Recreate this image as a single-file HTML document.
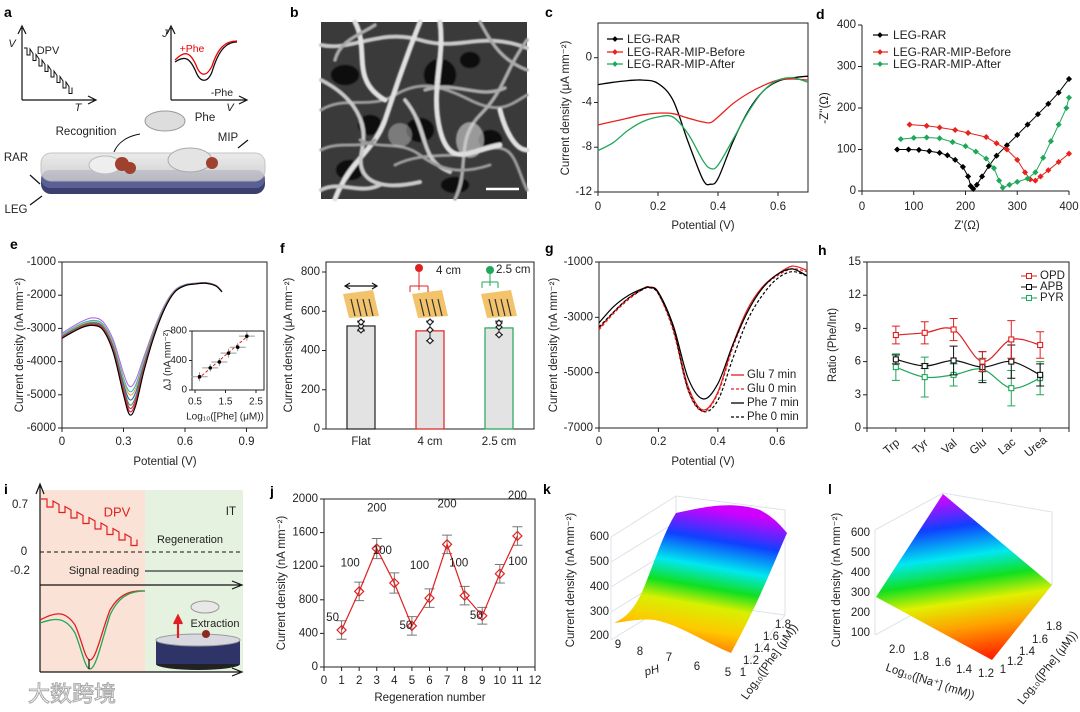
<!DOCTYPE html>
<html><head><meta charset="utf-8">
<style>
html,body{margin:0;padding:0;background:#fff;}
svg{display:block;font-family:"Liberation Sans","Noto Sans CJK SC",sans-serif;}
</style></head>
<body>
<svg id="fig" width="1080" height="712" viewBox="0 0 1080 712" xmlns="http://www.w3.org/2000/svg">
<defs>
<linearGradient id="rainK" x1="0.25" y1="1" x2="0.45" y2="0">
<stop offset="0" stop-color="#ff5a00"/><stop offset="0.2" stop-color="#ffc800"/><stop offset="0.36" stop-color="#d8f000"/><stop offset="0.48" stop-color="#10e020"/><stop offset="0.62" stop-color="#00e8f0"/><stop offset="0.8" stop-color="#1040ff"/><stop offset="1" stop-color="#d000ff"/>
</linearGradient>
<linearGradient id="rainL" x1="0.55" y1="1" x2="0.4" y2="0">
<stop offset="0" stop-color="#ff2000"/><stop offset="0.2" stop-color="#ffa000"/><stop offset="0.35" stop-color="#e0f000"/><stop offset="0.48" stop-color="#10e020"/><stop offset="0.62" stop-color="#00e8f0"/><stop offset="0.8" stop-color="#1040ff"/><stop offset="1" stop-color="#e000ff"/>
</linearGradient>
<linearGradient id="slab" x1="0" y1="0" x2="0" y2="1"><stop offset="0" stop-color="#e8e8e8"/><stop offset="1" stop-color="#c8c8c8"/></linearGradient>
<filter id="soft"><feGaussianBlur stdDeviation="0.8"/></filter>
</defs>
<g id="root"></g>
</svg>
<script>
// ---------- data ----------
const cX=[0,0.05,0.1,0.15,0.2,0.25,0.3,0.35,0.375,0.4,0.45,0.5,0.55,0.6,0.65,0.7];
const cLegRar=[-2.4,-2.2,-2.05,-2.0,-2.3,-3.8,-7.5,-10.9,-11.3,-10.8,-7.5,-4.8,-3.0,-2.1,-1.8,-1.65];
const cBefore=[-6.0,-5.7,-5.4,-5.1,-4.95,-5.0,-5.4,-5.75,-5.8,-5.3,-4.1,-3.2,-2.5,-2.0,-1.9,-2.0];
const cAfter=[-8.3,-7.6,-6.5,-5.7,-5.3,-5.3,-6.8,-9.2,-9.9,-9.6,-7.3,-4.9,-3.0,-2.0,-1.8,-2.2];
const cXTicks=[0,0.2,0.4,0.6];
const cYTicks=[0,-4,-8,-12];

const dBlackX=[68,90,110,130,150,165,180,195,205,210,215,222,232,245,260,280,300,320,340,360,380,400];
const dBlackY=[100,100,99,96,92,86,75,58,35,12,5,15,35,60,85,110,135,160,185,210,237,270];
const dRedX=[92,125,150,180,205,240,260,280,300,315,325,335,345,360,380,400];
const dRedY=[160,157,153,147,140,130,115,100,75,45,28,25,35,50,70,90];
const dGreenX=[75,100,125,150,175,200,220,240,255,265,272,285,300,320,335,350,365,380,395,400];
const dGreenY=[125,128,129,127,118,108,95,78,55,25,8,15,22,30,45,80,120,160,200,225];
const dTicks=[0,100,200,300,400];

const eX=[0,0.05,0.1,0.15,0.2,0.25,0.3,0.33,0.36,0.4,0.45,0.5,0.55,0.6,0.65,0.7,0.75,0.78];
const ePurple=[-3150,-2950,-2780,-2680,-2800,-3350,-4350,-4750,-4550,-3850,-3000,-2300,-1850,-1680,-1640,-1620,-1700,-1880];
const eCyan=[-3200,-3000,-2840,-2760,-2870,-3450,-4500,-4900,-4700,-3950,-3050,-2330,-1860,-1690,-1645,-1625,-1705,-1885];
const eOrange=[-3220,-3030,-2870,-2800,-2910,-3500,-4580,-5000,-4800,-4000,-3080,-2350,-1870,-1695,-1650,-1630,-1710,-1890];
const eBlue=[-3240,-3060,-2900,-2830,-2950,-3560,-4680,-5150,-4920,-4070,-3120,-2370,-1880,-1700,-1650,-1630,-1710,-1890];
const eGreen=[-3260,-3080,-2920,-2850,-2980,-3610,-4780,-5300,-5050,-4130,-3150,-2390,-1890,-1705,-1655,-1635,-1715,-1895];
const eMagenta=[-3270,-3100,-2940,-2870,-3000,-3650,-4850,-5400,-5140,-4180,-3180,-2400,-1895,-1710,-1660,-1640,-1720,-1900];
const eRed=[-3280,-3110,-2950,-2890,-3020,-3690,-4920,-5500,-5230,-4230,-3200,-2410,-1900,-1712,-1660,-1640,-1720,-1900];
const eBlack=[-3300,-3120,-2970,-2910,-3050,-3730,-5000,-5600,-5320,-4280,-3220,-2420,-1905,-1715,-1662,-1640,-1720,-1900];
const eYTicks=[-1000,-2000,-3000,-4000,-5000,-6000];
const eXTicks=[0,0.3,0.6,0.9];
const insX=[0.65,1.0,1.3,1.6,1.9,2.2];
const insY=[180,300,380,500,580,730];
const insErr=[60,50,55,60,55,60];

const fCats=['Flat','4 cm','2.5 cm'];
const fVals=[525,500,515];
const fErr=[25,50,35];
const fPtsFlat=[505,525,545];
const fPts4=[450,505,545];
const fPts25=[480,520,540];
const fTicks=[0,200,400,600,800];

const gX=[0,0.05,0.1,0.15,0.17,0.2,0.25,0.3,0.35,0.4,0.45,0.5,0.55,0.6,0.65,0.7];
const gGlu7=[-3400,-2800,-2300,-1950,-1900,-2100,-3400,-5500,-6350,-5700,-4000,-2700,-1900,-1450,-1150,-1300];
const gGlu0=[-3450,-2850,-2350,-1970,-1920,-2150,-3500,-5650,-6400,-5750,-4100,-2800,-1950,-1500,-1250,-1350];
const gPhe7=[-3200,-2600,-2200,-1950,-1920,-2100,-3300,-5200,-5950,-5400,-4000,-2800,-1950,-1450,-1250,-1500];
const gPhe0=[-3350,-2800,-2300,-1980,-1930,-2150,-3400,-5600,-6400,-6000,-4500,-3100,-2200,-1600,-1350,-1500];
const gYTicks=[-1000,-3000,-5000,-7000];

const hCats=['Trp','Tyr','Val','Glu','Lac','Urea'];
const hOPD=[8.4,8.6,8.9,6.0,8.0,7.5];
const hOPDerr=[0.8,1.0,1.0,0.9,1.7,1.2];
const hAPB=[6.2,5.6,6.1,5.5,6.0,4.8];
const hAPBerr=[0.4,0.2,1.3,1.4,1.5,1.0];
const hPYR=[5.5,4.6,4.8,5.3,3.6,4.5];
const hPYRerr=[1.2,1.8,1.0,1.0,1.6,1.5];
const hTicks=[0,3,6,9,12,15];

const jX=[1,2,3,4,5,6,7,8,9,10,11];
const jY=[440,900,1410,1000,490,820,1460,850,610,1110,1560];
const jErr=[110,110,120,120,110,110,110,110,100,110,110];
const jLabels=['50','100','200','100','50','100','200','100','50','100','200'];
const jXTicks=[0,1,2,3,4,5,6,7,8,9,10,11,12];
const jYTicks=[0,400,800,1200,1600,2000];

// ---------- helpers ----------
const NS='http://www.w3.org/2000/svg';
const root=document.getElementById('root');
function mk(tag,attrs,name,parent){
  const el=document.createElementNS(NS,tag);
  for(const k in attrs) el.setAttribute(k,attrs[k]);
  
  
  (parent||root).appendChild(el);
  return el;
}
function txt(x,y,s,o,name,parent){
  o=o||{};
  const a={x:x,y:y,'font-size':o.fs||11,fill:o.fill||'#222','text-anchor':o.anchor||'middle','dominant-baseline':'central'};
  if(o.bold) a['font-weight']='bold';
  if(o.rot!==undefined) a.transform='rotate('+o.rot+' '+x+' '+y+')';
  if(o.italic) a['font-style']='italic';
  const t=mk('text',a,name,parent);
  t.textContent=s;
  return t;
}
function lin(d0,d1,r0,r1){return v=>r0+(v-d0)/(d1-d0)*(r1-r0);}
function smooth(pts){
  let d='M'+pts[0][0]+','+pts[0][1];
  for(let i=0;i<pts.length-1;i++){
    const p0=pts[i-1]||pts[i],p1=pts[i],p2=pts[i+1],p3=pts[i+2]||p2;
    const c1=[p1[0]+(p2[0]-p0[0])/6,p1[1]+(p2[1]-p0[1])/6];
    const c2=[p2[0]-(p3[0]-p1[0])/6,p2[1]-(p3[1]-p1[1])/6];
    d+=' C'+c1[0].toFixed(1)+','+c1[1].toFixed(1)+' '+c2[0].toFixed(1)+','+c2[1].toFixed(1)+' '+p2[0].toFixed(1)+','+p2[1].toFixed(1);
  }
  return d;
}
function poly(pts){return 'M'+pts.map(p=>p[0].toFixed(1)+','+p[1].toFixed(1)).join(' L');}
function box(x0,y0,x1,y1,name){mk('rect',{x:x0,y:y0,width:x1-x0,height:y1-y0,fill:'none',stroke:'#222','stroke-width':1},name);}
function yTicks(ticks,sy,x0,name,fs,fmt){
  ticks.forEach(t=>{
    mk('line',{x1:x0-4,x2:x0,y1:sy(t),y2:sy(t),stroke:'#222'},name+'-tick');
    txt(x0-6,sy(t),fmt?fmt(t):String(t),{anchor:'end',fs:fs||11.5},name+'-label');
  });
}
function xTicks(ticks,sx,y0,name,fs,ly){
  ticks.forEach(t=>{
    mk('line',{x1:sx(t),x2:sx(t),y1:y0,y2:y0+4,stroke:'#222'},name+'-tick');
    txt(sx(t),ly||y0+14,String(t),{fs:fs||11.5},name+'-label');
  });
}
function letter(x,y,s){txt(x,y,s,{bold:true,fs:14,anchor:'start',fill:'#000'},'panel-label-'+s);}
function diamond(x,y,r,fill,stroke,name){mk('path',{d:`M${x},${y-r} L${x+r},${y} L${x},${y+r} L${x-r},${y} Z`,fill:fill,stroke:stroke,'stroke-width':1.2},name);}

// ---------- panel letters ----------
letter(4,12,'a');letter(290,12,'b');letter(545,12,'c');letter(816,14,'d');
letter(10,244,'e');letter(280,248,'f');letter(545,248,'g');letter(818,250,'h');
letter(4,489,'i');letter(270,491,'j');letter(543,489,'k');letter(828,489,'l');

// ---------- panel a (schematic) ----------
(function(){
  const ar='stroke:#111;stroke-width:1.2;fill:none';
  mk('path',{d:'M22,100 L22,28 M18,34 L22,26 L26,34 M22,100 L95,100 M88,96 L96,100 L88,104',style:ar},'dpv-axes');
  let d='M24,48',x=24,y=48;
  for(let i=0;i<8;i++){d+=` L${x+3},${y} L${x+3},${y+7} L${x+6},${y+7} L${x+6},${y+1}`;x+=6;y+=5.5;}
  mk('path',{d:d,style:'stroke:#111;stroke-width:1;fill:none'},'dpv-staircase');
  txt(12,44,'V',{italic:true,fs:11},'dpv-v-label');txt(48,51,'DPV',{fs:11},'dpv-label');txt(78,108,'T',{italic:true,fs:11},'dpv-t-label');
  mk('path',{d:'M171,100 L171,28 M167,34 L171,26 L175,34 M171,100 L246,100 M239,96 L247,100 L239,104',style:ar},'j-v-axes');
  mk('path',{d:'M175,62 C185,55 190,58 196,72 C200,82 207,84 212,72 C218,52 225,42 237,42',style:'stroke:#111;stroke-width:1.3;fill:none'},'minus-phe-curve');
  mk('path',{d:'M175,60 C185,50 190,52 196,65 C200,76 206,78 212,66 C218,48 225,41 237,41',style:'stroke:#e00;stroke-width:1.3;fill:none'},'plus-phe-curve');
  txt(165,34,'J',{italic:true,fs:11},'j-label');txt(192,49,'+Phe',{fs:10.5,fill:'#e00'},'plus-phe-label');txt(222,93,'-Phe',{fs:10.5},'minus-phe-label');txt(230,108,'V',{italic:true,fs:11},'v-label');
  mk('rect',{x:41,y:172,width:224,height:22,rx:10,fill:'#3b3f6e'},'leg-layer');
  mk('rect',{x:41,y:170,width:224,height:18,rx:9,fill:'#5a5f95'},'rar-layer');
  mk('rect',{x:41,y:153,width:224,height:28,rx:10,fill:'url(#slab)',opacity:0.85,stroke:'#bbb'},'mip-layer');
  mk('ellipse',{cx:165,cy:121,rx:20,ry:10,fill:'#ddd',stroke:'#999'},'phe-molecule');
  mk('ellipse',{cx:190,cy:160,rx:22,ry:12,fill:'#e4e4e4',stroke:'#aaa'},'imprint-site-2');
  mk('ellipse',{cx:105,cy:165,rx:16,ry:9,fill:'#eee',stroke:'#bbb'},'imprint-site-1');
  mk('circle',{cx:122,cy:164,r:7,fill:'#a0402e'},'recognition-red-1');
  mk('circle',{cx:130,cy:168,r:6,fill:'#a0402e'},'recognition-red-2');
  mk('circle',{cx:212,cy:163,r:6,fill:'#a0402e'},'recognition-red-3');
  mk('path',{d:'M140,134 C128,136 118,142 114,152',style:'stroke:#111;stroke-width:1;fill:none'},'recognition-arrow');
  txt(86,132,'Recognition',{fs:11.5},'recognition-label');txt(205,118,'Phe',{fs:11.5},'phe-label');txt(228,138,'MIP',{fs:11.5},'mip-label');
  mk('path',{d:'M248,140 L238,148',style:ar},'mip-arrow');
  txt(16,158,'RAR',{fs:11.5},'rar-label');txt(16,210,'LEG',{fs:11.5},'leg-label');
  mk('path',{d:'M30,175 L40,184',style:ar},'rar-arrow');mk('path',{d:'M30,205 L42,196',style:ar},'leg-arrow');
})();

// ---------- panel b (SEM) ----------
(function(){
  mk('rect',{x:321,y:22,width:206,height:177,fill:'#3a3a3a'},'sem-image');
  const g=mk('g',{filter:'url(#soft)'},'sem-fibers');
  const holes=[[345,75,14,10],[440,75,16,16],[370,125,12,10],[420,130,14,12],[490,140,12,10],[350,170,14,10],[470,60,10,8],[455,185,14,8]];
  holes.forEach(h=>mk('ellipse',{cx:h[0],cy:h[1],rx:h[2],ry:h[3],fill:'#111'},'sem-pore',g));
  const strands=['M321,45 C350,52 380,28 420,40 S480,30 527,48','M321,110 C345,95 370,110 395,95 S440,85 470,100 S510,105 527,95','M335,199 C350,160 375,150 385,120 S405,60 420,22','M455,199 C470,170 455,140 480,115 S505,70 527,40','M321,80 C345,92 370,115 362,150 S385,190 420,182','M395,165 C425,150 455,160 485,150 S515,165 527,190','M355,22 C370,50 350,80 385,100','M425,90 C455,80 480,100 505,88','M405,100 C430,130 418,160 450,172','M321,150 C340,140 360,150 375,140','M440,22 C445,60 430,90 440,130 S470,150 500,145','M480,22 C490,40 500,60 527,70','M321,190 C340,180 360,195 380,185','M360,140 C380,150 400,140 420,155 S460,175 490,165','M500,110 C505,130 515,150 527,150','M335,60 C340,40 360,35 375,25'];
  strands.forEach((s,i)=>mk('path',{d:s,stroke:['#c8c8c8','#9c9c9c','#e0e0e0','#aaaaaa'][i%4],'stroke-width':[4,3,5,3.5][i%4],fill:'none','stroke-linecap':'round'},'sem-fiber',g));
  mk('ellipse',{cx:470,cy:140,rx:14,ry:18,fill:'#d8d8d8',opacity:0.6},'sem-bright-patch',g);
  mk('ellipse',{cx:400,cy:135,rx:12,ry:12,fill:'#bbb',opacity:0.5},'sem-bright-patch',g);
  mk('line',{x1:486,x2:519,y1:189,y2:189,stroke:'#fff','stroke-width':2.5},'scale-bar');
})();

// ---------- panel c ----------
(function(){
  const X0=598,X1=808,Y0=23,Y1=192;
  const sx=lin(0,0.7,X0,X1), sy=lin(-12,3.1,Y1,Y0);
  box(X0,Y0,X1,Y1,'c-plot-frame');
  yTicks(cYTicks,sy,X0,'c-y');xTicks(cXTicks,sx,Y1,'c-x',11.5,207);
  const series=[[cLegRar,'#000','c-line-leg-rar'],[cBefore,'#e8221c','c-line-mip-before'],[cAfter,'#1fa75a','c-line-mip-after']];
  series.forEach(s=>mk('path',{d:smooth(cX.map((x,i)=>[sx(x),sy(s[0][i])])),stroke:s[1],'stroke-width':1.3,fill:'none'},s[2]));
  txt(566,108,'Current density  (μA mm⁻²)',{rot:-90,fs:11.5},'c-y-title');
  txt(703,226,'Potential (V)',{fs:11.5},'c-x-title');
  const leg=[['LEG-RAR','#000',39],['LEG-RAR-MIP-Before','#e8221c',52],['LEG-RAR-MIP-After','#1fa75a',64]];
  leg.forEach(l=>{mk('line',{x1:607,x2:623,y1:l[2],y2:l[2],stroke:l[1],'stroke-width':1.3},'c-legend-line');diamond(615,l[2],2,l[1],l[1],'c-legend-marker');txt(627,l[2],l[0],{anchor:'start',fs:12},'c-legend-entry');});
})();

// ---------- panel d ----------
(function(){
  const X0=862,X1=1069,Y0=25,Y1=191;
  const sx=lin(0,400,X0,X1), sy=lin(0,400,Y1,Y0);
  mk('path',{d:`M${X0},${Y0} L${X0},${Y1} L${X1},${Y1}`,stroke:'#222',fill:'none'},'d-axes');
  yTicks(dTicks,sy,X0,'d-y');xTicks(dTicks,sx,Y1,'d-x',11.5,207);
  const series=[[dBlackX,dBlackY,'#000','d-series-leg-rar'],[dRedX,dRedY,'#e8221c','d-series-mip-before'],[dGreenX,dGreenY,'#1fa75a','d-series-mip-after']];
  series.forEach(s=>{
    const pts=s[0].map((x,i)=>[sx(x),sy(s[1][i])]);
    mk('path',{d:poly(pts),stroke:s[2],'stroke-width':1,fill:'none'},s[3]+'-line');
    pts.forEach(p=>diamond(p[0],p[1],2.2,s[2],s[2],s[3]+'-point'));
  });
  txt(825,108,"-Z''(Ω)",{rot:-90,fs:11.5},'d-y-title');
  txt(967,226,"Z'(Ω)",{fs:11.5},'d-x-title');
  const leg=[['LEG-RAR','#000',35],['LEG-RAR-MIP-Before','#e8221c',52],['LEG-RAR-MIP-After','#1fa75a',64]];
  leg.forEach(l=>{mk('line',{x1:873,x2:888,y1:l[2],y2:l[2],stroke:l[1],'stroke-width':1.2},'d-legend-line');diamond(880,l[2],2,l[1],l[1],'d-legend-marker');txt(893,l[2],l[0],{anchor:'start',fs:12},'d-legend-entry');});
})();

// ---------- panel e ----------
(function(){
  const X0=62,X1=267,Y0=262,Y1=428;
  const sx=lin(0,1,X0,X1), sy=lin(-6000,-1000,Y1,Y0);
  box(X0,Y0,X1,Y1,'e-plot-frame');
  yTicks(eYTicks,sy,X0,'e-y');xTicks(eXTicks,sx,Y1,'e-x',11.5,442);
  const series=[[ePurple,'#b06ee0'],[eCyan,'#2bb3e0'],[eOrange,'#e6b020'],[eBlue,'#3060c0'],[eGreen,'#30a050'],[eMagenta,'#c03070'],[eRed,'#e02020'],[eBlack,'#000']];
  series.forEach((s,k)=>mk('path',{d:smooth(eX.map((x,i)=>[sx(x),sy(s[0][i])])),stroke:s[1],'stroke-width':1.1,fill:'none'},'e-curve-'+k));
  txt(20,345,'Current density  (nA mm⁻²)',{rot:-90,fs:11.5},'e-y-title');
  txt(165,462,'Potential (V)',{fs:11.5},'e-x-title');
  const ix=lin(0.5,2.5,195,256), iy=lin(0,800,390,331);
  mk('rect',{x:192,y:331,width:72,height:59,fill:'#fff',stroke:'#222'},'e-inset-frame');
  [0,400,800].forEach(t=>{mk('line',{x1:189,x2:192,y1:iy(t),y2:iy(t),stroke:'#222'},'inset-y-tick');txt(187,iy(t),String(t),{anchor:'end',fs:10},'inset-y-label');});
  [0.5,1.5,2.5].forEach(t=>{mk('line',{x1:ix(t),x2:ix(t),y1:390,y2:393,stroke:'#222'},'inset-x-tick');txt(ix(t),402,String(t),{fs:10},'inset-x-label');});
  mk('line',{x1:ix(0.6),y1:iy(150),x2:ix(2.25),y2:iy(740),stroke:'#e02020','stroke-dasharray':'3,2','stroke-width':1},'inset-fit-line');
  insX.forEach((x,i)=>{mk('line',{x1:ix(x)-8,x2:ix(x)+8,y1:iy(insY[i]),y2:iy(insY[i]),stroke:'#999'},'inset-xerr');mk('line',{x1:ix(x),x2:ix(x),y1:iy(insY[i]-insErr[i]),y2:iy(insY[i]+insErr[i]),stroke:'#999'},'inset-yerr');mk('circle',{cx:ix(x),cy:iy(insY[i]),r:1.8,fill:'#000'},'inset-point');});
  txt(168,360,'ΔJ (nA mm⁻²)',{rot:-90,fs:10},'inset-y-title');
  txt(225,417,'Log₁₀([Phe] (μM))',{fs:10},'inset-x-title');
})();

// ---------- panel f ----------
(function(){
  const X0=326,X1=534,Y0=262,Y1=429;
  const sy=lin(0,800,Y1,272); const cx=[361,430,499];
  box(X0,Y0,X1,Y1,'f-plot-frame');
  yTicks(fTicks,sy,X0,'f-y');
  const edge=['#222','#e02020','#1fa75a'];
  const pts=[fPtsFlat,fPts4,fPts25];
  fCats.forEach((c,i)=>{
    mk('rect',{x:cx[i]-14,y:sy(fVals[i]),width:28,height:Y1-sy(fVals[i]),fill:'#e3e3e3',stroke:edge[i],'stroke-width':1.2},'f-bar-'+i);
    mk('path',{d:`M${cx[i]},${sy(fVals[i]-fErr[i])} L${cx[i]},${sy(fVals[i]+fErr[i])} M${cx[i]-4},${sy(fVals[i]+fErr[i])} L${cx[i]+4},${sy(fVals[i]+fErr[i])} M${cx[i]-4},${sy(fVals[i]-fErr[i])} L${cx[i]+4},${sy(fVals[i]-fErr[i])}`,stroke:'#222',fill:'none'},'f-error-bar');
    pts[i].forEach(v=>diamond(cx[i],sy(v),3,'#fff','#222','f-point'));
    txt(cx[i],442,c,{fs:11.5},'f-x-label');
  });
  txt(289,345,'Current density  (μA mm⁻²)',{rot:-90,fs:11.5},'f-y-title');
  cx.forEach((c,i)=>{mk('path',{d:`M${c-18},${294} L${c+12},${290} L${c+18},${316} L${c-12},${318} Z`,fill:'#f3c36c'},'f-electrode-icon');
    for(let k=0;k<4;k++) mk('line',{x1:c-10+k*6,y1:299,x2:c-6+k*6,y2:316,stroke:'#333','stroke-width':1.2},'f-electrode-trace');});
  mk('path',{d:'M346,286 L376,286 M350,283 L345,286 L350,289 M372,283 L377,286 L372,289',stroke:'#111',fill:'none','stroke-width':1.2},'f-flat-arrow');
  mk('circle',{cx:419,cy:268,r:4,fill:'#e02020'},'f-red-ball');mk('path',{d:'M419,272 L419,290 M410,286 L428,286 M410,286 L410,292 M428,286 L428,292',stroke:'#e02020',fill:'none'},'f-red-arrow');
  txt(436,271,'4 cm',{fs:11.5,anchor:'start'},'f-4cm-label');
  mk('circle',{cx:490,cy:270,r:4,fill:'#1fa75a'},'f-green-ball');mk('path',{d:'M490,274 L490,286 M482,282 L498,282 M482,282 L482,288 M498,282 L498,288',stroke:'#1fa75a',fill:'none'},'f-green-arrow');
  txt(496,270,'2.5 cm',{fs:11.5,anchor:'start'},'f-25cm-label');
})();

// ---------- panel g ----------
(function(){
  const X0=599,X1=807,Y0=262,Y1=428;
  const sx=lin(0,0.7,X0,X1), sy=lin(-7000,-1000,Y1,Y0);
  box(X0,Y0,X1,Y1,'g-plot-frame');
  yTicks(gYTicks,sy,X0,'g-y');xTicks(cXTicks,sx,Y1,'g-x',11.5,442);
  const series=[[gGlu7,'#e02020','','g-line-glu-7'],[gGlu0,'#e02020','3,2','g-line-glu-0'],[gPhe7,'#000','','g-line-phe-7'],[gPhe0,'#000','3,2','g-line-phe-0']];
  series.forEach(s=>{const a={d:smooth(gX.map((x,i)=>[sx(x),sy(s[0][i])])),stroke:s[1],'stroke-width':1.2,fill:'none'};if(s[2])a['stroke-dasharray']=s[2];mk('path',a,s[3]);});
  txt(554,345,'Current density  (nA mm⁻²)',{rot:-90,fs:11.5},'g-y-title');
  txt(703,462,'Potential (V)',{fs:11.5},'g-x-title');
  const leg=[['Glu 7 min','#e02020','',375],['Glu 0 min','#e02020','3,2',389],['Phe 7 min','#000','',403],['Phe 0 min','#000','3,2',417]];
  leg.forEach(l=>{const a={x1:731,x2:744,y1:l[3],y2:l[3],stroke:l[1],'stroke-width':1.3};if(l[2])a['stroke-dasharray']=l[2];mk('line',a,'g-legend-line');txt(747,l[3],l[0],{anchor:'start',fs:11.5},'g-legend-entry');});
})();

// ---------- panel h ----------
(function(){
  const X0=867,X1=1069,Y0=262,Y1=428;
  const sx=lin(0,7,X0,X1), sy=lin(0,15,Y1,Y0);
  box(X0,Y0,X1,Y1,'h-plot-frame');
  yTicks(hTicks,sy,X0,'h-y');
  hCats.forEach((c,i)=>{const x=sx(i+1);mk('line',{x1:x,x2:x,y1:Y1,y2:Y1+4,stroke:'#222'},'h-x-tick');txt(x-4,447,c,{fs:11.5,rot:-40},'h-x-label');});
  [0,7].forEach(v=>mk('line',{x1:sx(v),x2:sx(v),y1:Y1,y2:Y1+4,stroke:'#222'},'h-x-tick'));
  const series=[[hPYR,hPYRerr,'#1fa75a','h-series-pyr'],[hAPB,hAPBerr,'#111','h-series-apb'],[hOPD,hOPDerr,'#e02020','h-series-opd']];
  series.forEach(s=>{
    const pts=s[0].map((v,i)=>[sx(i+1),sy(v)]);
    mk('path',{d:smooth(pts),stroke:s[2],'stroke-width':1.2,fill:'none'},s[3]+'-line');
    s[0].forEach((v,i)=>{const x=sx(i+1);mk('path',{d:`M${x},${sy(v-s[1][i])} L${x},${sy(v+s[1][i])} M${x-4},${sy(v+s[1][i])} L${x+4},${sy(v+s[1][i])} M${x-4},${sy(v-s[1][i])} L${x+4},${sy(v-s[1][i])}`,stroke:s[2],fill:'none'},s[3]+'-error');
      mk('rect',{x:x-2.5,y:sy(v)-2.5,width:5,height:5,fill:'#fff',stroke:s[2],'stroke-width':1.1},s[3]+'-point');});
  });
  txt(833,345,'Ratio (Phe/Int)',{rot:-90,fs:11.5},'h-y-title');
  const leg=[['OPD','#e02020',276],['APB','#111',287],['PYR','#1fa75a',298]];
  leg.forEach(l=>{mk('line',{x1:1021,x2:1037,y1:l[2],y2:l[2],stroke:l[1]},'h-legend-line');mk('rect',{x:1026.5,y:l[2]-2.5,width:5,height:5,fill:'#fff',stroke:l[1]},'h-legend-marker');txt(1040,l[2],l[0],{anchor:'start',fs:11.5},'h-legend-entry');});
})();

// ---------- panel i ----------
(function(){
  mk('rect',{x:40,y:490,width:105,height:182,fill:'#fbe2d6'},'i-dpv-region');
  mk('rect',{x:145,y:490,width:98,height:182,fill:'#e6f2e0'},'i-it-region');
  mk('path',{d:'M40,672 L40,486 M36,494 L40,484 L44,494',stroke:'#111',fill:'none','stroke-width':1.2},'i-y-axis');
  mk('path',{d:'M40,585 L240,585 M232,581 L242,585 L232,589',stroke:'#111',fill:'none','stroke-width':1.2},'i-upper-time-axis');
  mk('path',{d:'M40,672 L240,672 M232,668 L242,672 L232,676',stroke:'#111',fill:'none','stroke-width':1.2},'i-lower-time-axis');
  mk('line',{x1:40,x2:243,y1:552,y2:552,stroke:'#111','stroke-dasharray':'4,3'},'i-zero-line');
  mk('line',{x1:145,x2:243,y1:571,y2:571,stroke:'#555','stroke-width':1.5},'i-it-line');
  let d='M41,499',x=41,y=499;
  for(let i=0;i<8;i++){d+=` L${x+6},${y} L${x+6},${y+8} L${x+12},${y+8} L${x+12},${y+2}`;x+=12;y+=5.5;}
  mk('path',{d:d,stroke:'#e02020',fill:'none','stroke-width':1.2},'i-dpv-staircase');
  txt(20,505,'0.7',{fs:11.5},'i-label-0.7');txt(24,552,'0',{fs:11.5},'i-label-0');txt(20,571,'-0.2',{fs:11.5},'i-label-neg0.2');
  txt(117,512,'DPV',{fs:13,fill:'#e02020'},'i-dpv-label');txt(236,512,'IT',{fs:11.5,anchor:'end'},'i-it-label');
  txt(190,540,'Regeneration',{fs:11},'i-regeneration-label');txt(104,571,'Signal reading',{fs:11},'i-signal-reading-label');
  mk('path',{d:'M40,620 C55,612 65,610 75,625 C82,640 85,660 90,660 C96,660 102,630 110,610 C118,596 128,590 145,591',stroke:'#e02020',fill:'none','stroke-width':1.3},'i-red-dpv-curve');
  mk('path',{d:'M40,623 C55,618 65,616 75,633 C82,650 85,669 90,669 C96,669 102,640 110,615 C118,598 128,591 145,591',stroke:'#1fa75a',fill:'none','stroke-width':1.3},'i-green-dpv-curve');
  mk('path',{d:'M89,659 L89,669',stroke:'#111','stroke-width':1.2},'i-delta-arrow');
  mk('ellipse',{cx:198,cy:664,rx:42,ry:6,fill:'#222'},'i-cell-base');
  mk('rect',{x:156,y:640,width:84,height:24,fill:'#2f3468'},'i-cell-body');
  mk('ellipse',{cx:198,cy:640,rx:42,ry:6,fill:'#d8d8e0',stroke:'#999'},'i-cell-top');
  mk('ellipse',{cx:205,cy:607,rx:14,ry:6,fill:'#e8e8e8',stroke:'#999'},'i-extracted-molecule');
  mk('circle',{cx:206,cy:634,r:4,fill:'#8a2a20'},'i-red-site');
  mk('path',{d:'M178,638 L178,620 M174,624 L178,616 L182,624',stroke:'#e02020','stroke-width':2.2,fill:'#e02020'},'i-extraction-arrow');
  txt(215,624,'Extraction',{fs:11},'i-extraction-label');
})();

// ---------- panel j ----------
(function(){
  const X0=324,X1=535,Y0=499,Y1=667;
  const sx=lin(0,12,X0,X1), sy=lin(0,2000,Y1,Y0);
  box(X0,Y0,X1,Y1,'j-plot-frame');
  yTicks(jYTicks,sy,X0,'j-y');xTicks(jXTicks,sx,Y1,'j-x',11.5,681);
  jX.forEach((x,i)=>{const X=sx(x);mk('path',{d:`M${X},${sy(jY[i]-jErr[i])} L${X},${sy(jY[i]+jErr[i])} M${X-5},${sy(jY[i]+jErr[i])} L${X+5},${sy(jY[i]+jErr[i])} M${X-5},${sy(jY[i]-jErr[i])} L${X+5},${sy(jY[i]-jErr[i])}`,stroke:'#777',fill:'none'},'j-error-bar');});
  mk('path',{d:poly(jX.map((x,i)=>[sx(x),sy(jY[i])])),stroke:'#e02020','stroke-width':1.2,fill:'none'},'j-line');
  jX.forEach((x,i)=>diamond(sx(x),sy(jY[i]),4.5,'none','#e02020','j-point'));
  const off=[[-9,-12],[-9,-28],[0,-40],[-12,-32],[-6,0],[-10,-32],[0,-40],[-6,-32],[-6,0],[18,-12],[0,-40]];
  jX.forEach((x,i)=>txt(sx(x)+off[i][0],sy(jY[i])+off[i][1],jLabels[i],{fs:11.5},'j-value-label'));
  txt(282,583,'Current density (nA mm⁻²)',{rot:-90,fs:11.5},'j-y-title');
  txt(430,698,'Regeneration number',{fs:11.5},'j-x-title');
})();

// ---------- panel k ----------
(function(){
  const g='#dde3ea';
  mk('path',{d:'M611,537 L676,496 L785,510 L785,615 M611,537 L611,640 M676,496 L676,600 L611,640 M676,600 L785,615 M740,672 L785,615',stroke:g,fill:'none'},'k-grid-walls');
  [562,587,612].forEach(y=>mk('line',{x1:611,y1:y,x2:676,y2:y-40,stroke:g},'k-grid-line'));
  mk('path',{d:'M614,623 C625,618 635,610 645,585 C655,560 665,530 676,513 C700,508 730,500 760,510 C775,518 782,527 787,533 C775,560 760,600 731,653 C700,640 680,625 655,620 C640,618 625,622 614,623 Z',fill:'url(#rainK)'},'k-surface');
  ['600','500','400','300','200'].forEach((s,i)=>txt(609,[537,562,587,612,636][i],s,{fs:11.5,anchor:'end'},'k-z-label'));
  ['9','8','7','6','5'].forEach((s,i)=>txt([618,640,669,697,728][i],[645,652,658,667,673][i],s,{fs:11.5},'k-ph-label'));
  txt(652,671,'pH',{fs:11.5,italic:true,rot:-15},'k-ph-title');
  ['1','1.2','1.4','1.6','1.8'].forEach((s,i)=>txt([743,751,762,771,783][i],[673,661,649,637,625][i],s,{fs:11.5},'k-phe-label'));
  txt(770,662,'Log₁₀([Phe] (μM))',{fs:11.5,rot:-55},'k-phe-title');
  txt(571,580,'Current density (nA mm⁻²)',{rot:-90,fs:11.5},'k-y-title');
})();

// ---------- panel l ----------
(function(){
  const g='#dde3ea';
  mk('path',{d:'M875,530 L943,493 L1052,512 L1052,585 M875,530 L875,635 M943,493 L943,598 L875,635 M943,598 L1052,585',stroke:g,fill:'none'},'l-grid-walls');
  mk('path',{d:'M943,494 L1052,585 L992,660 L876,597 Z',fill:'url(#rainL)'},'l-surface');
  ['600','500','400','300','200','100'].forEach((s,i)=>txt(870,[533,553,573,593,613,633][i],s,{fs:11.5,anchor:'end'},'l-z-label'));
  ['2.0','1.8','1.6','1.4','1.2'].forEach((s,i)=>txt([897,921,943,964,986][i],[650,657,663,670,674][i],s,{fs:11.5},'l-na-label'));
  txt(930,682,'Log₁₀([Na⁺] (mM))',{fs:11.5,rot:18},'l-na-title');
  ['1','1.2','1.4','1.6','1.8'].forEach((s,i)=>txt([1003,1015,1027,1040,1054][i],[670,662,652,640,627][i],s,{fs:11.5},'l-phe-label'));
  txt(1048,668,'Log₁₀([Phe] (μM))',{fs:11.5,rot:-52},'l-phe-title');
  txt(837,580,'Current density (nA mm⁻²)',{rot:-90,fs:11.5},'l-y-title');
})();

// ---------- watermark ----------
txt(72,694,'大数跨境',{fs:22,fill:'#fff'},'watermark').setAttribute('stroke','#aaa');
</script>
</body></html>
